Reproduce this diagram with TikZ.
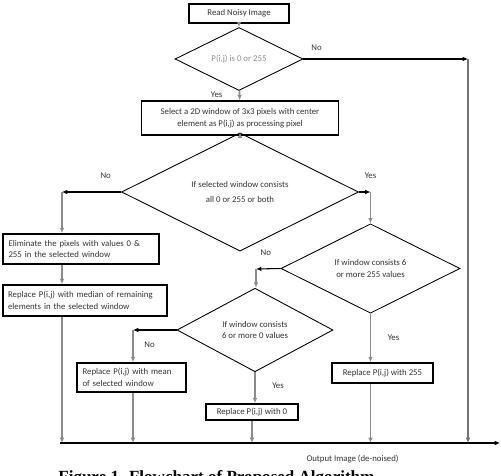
\documentclass[tikz,border=0pt]{standalone}
\usepackage{fontspec}
\setmainfont{Carlito}
\newfontfamily\capfont{Liberation Serif}
\usetikzlibrary{shapes.geometric}
\usetikzlibrary{arrows.meta}

\tikzset{
  every node/.style={font=\fontsize{5}{6.5}\selectfont, text=black!80},
  procbox/.style={draw, line width=0.9pt, inner sep=1.5pt},
  decision/.style={draw, diamond, line width=0.5pt, inner sep=0pt, align=center},
  flow/.style={-{Latex[length=3pt,width=2.6pt]}, draw=black!45, line width=1pt},
  branch/.style={-{Latex[length=3pt,width=2.6pt]}, line width=0.6pt},
  lbl/.style={font=\fontsize{5}{6}\selectfont},
}

\begin{document}
\begin{tikzpicture}[x=0.02cm, y=-0.02cm]
    \useasboundingbox (0,0) rectangle (501,476);

    % boxes
    \node[procbox, minimum width=2cm, minimum height=0.38cm] (read) at (239,13.5) {Read Noisy Image};
    \node[decision, minimum width=2.56cm, minimum height=0.76cm, text=black!45] (chk) at (239,59) {P(i,j) is 0 or 255};
    \node[procbox, minimum width=3.94cm, minimum height=0.68cm, align=center] (win) at (240,118)
        {Select a 2D window of 3x3 pixels with center\\element as P(i,j) as processing pixel};
    \node[decision, minimum width=4.74cm, minimum height=1.28cm] (all) at (240,192)
        {If selected window consists\\[2pt]all 0 or 255 or both};
    \node[procbox, minimum width=3.12cm, minimum height=0.6cm, text width=2.9cm, align=left] (elim) at (81,249)
        {Eliminate the pixels with values 0 \&\\255 in the selected window};
    \node[procbox, minimum width=3.28cm, minimum height=0.62cm, text width=3.08cm, align=left] (med) at (85,300.5)
        {Replace P(i,j) with median of remaining\\elements in the selected window};
    \node[decision, minimum width=3.58cm, minimum height=1.22cm] (six) at (370.5,268.5)
        {If window consists 6\\or more 255 values};
    \node[decision, minimum width=3.12cm, minimum height=1.24cm] (zero) at (255,330)
        {If window consists\\6 or more 0 values};
    \node[procbox, minimum width=2.02cm, minimum height=0.4cm] (full) at (382.5,373) {Replace P(i,j) with 255};
    \node[procbox, minimum width=2.18cm, minimum height=0.58cm, text width=1.96cm, align=left] (mean) at (131.5,377.5)
        {Replace P(i,j) with mean\\of selected window};
    \node[procbox, minimum width=1.84cm, minimum height=0.32cm] (nil) at (252,412) {Replace P(i,j) with 0};

    % corners and output line
    \coordinate (c1) at (468,59);
    \coordinate (c2) at (62,192);
    \coordinate (c3) at (370.5,192);
    \coordinate (c4) at (256,269);
    \coordinate (c5) at (133,330);
    \coordinate (outl) at (60,443);
    \coordinate (outr) at (500,443);

    \draw[branch] (outl) -- (outr) node[pos=0.665, below=3pt] (out) {Output Image (de-noised)};

    % main flow
    \draw[flow] (read) -- (chk);
    \draw[flow] (chk) -- node[pos=.4, left=6pt, lbl] {Yes} (win);
    \draw[flow] (win) -- (all);

    % P(i,j) not noisy
    \draw[branch] (chk.east) -- node[pos=.08, above=1pt, lbl] {No} (c1);
    \draw[draw=black!55, line width=0.8pt, -{Latex[length=3pt,width=2.6pt]}] (c1) -- (c1 |- outl);

    % left branch
    \draw[branch] (all.west) -- node[pos=.26, above=4pt, lbl] {No} (c2);
    \draw[flow] (c2) -- (c2 |- elim.north);
    \draw[flow] (c2 |- elim.south) -- (c2 |- med.north);
    \draw[flow] (c2 |- med.south) -- (c2 |- outl);

    % right branch
    \draw[branch] (all.east) -- node[at end, above=4pt, lbl] {Yes} (c3);
    \draw[flow] (c3) -- (six.north);
    \draw[branch] (six.west) -- node[pos=.6, above=4pt, lbl] {No} (c4);
    \draw[flow] (c4) -- (c4 |- zero.north);
    \draw[flow] (six.south) -- node[pos=.5, right=6pt, lbl] {Yes} (six.south |- full.north);
    \draw[flow] (six.south |- full.south) -- (six.south |- outl);

    % zero values
    \draw[branch] (zero.west) -- node[pos=.62, below=3pt, lbl] {No} (c5);
    \draw[flow] (c5) -- (c5 |- mean.north);
    \draw[flow] (c5 |- mean.south) -- (c5 |- outl);
    \draw[flow] (zero.south) -- node[pos=.45, right=6pt, lbl] {Yes} (zero.south |- nil.north);
    \draw[flow] (nil) -- (nil |- outl);

    % caption, cut by the page edge
    \node[anchor=base west, inner sep=0pt, text=black, font=\capfont\bfseries\fontsize{9.7}{12}\selectfont] (cap) at (58,483)
        {Figure 1. Flowchart of Proposed Algorithm};
\end{tikzpicture}
\end{document}
